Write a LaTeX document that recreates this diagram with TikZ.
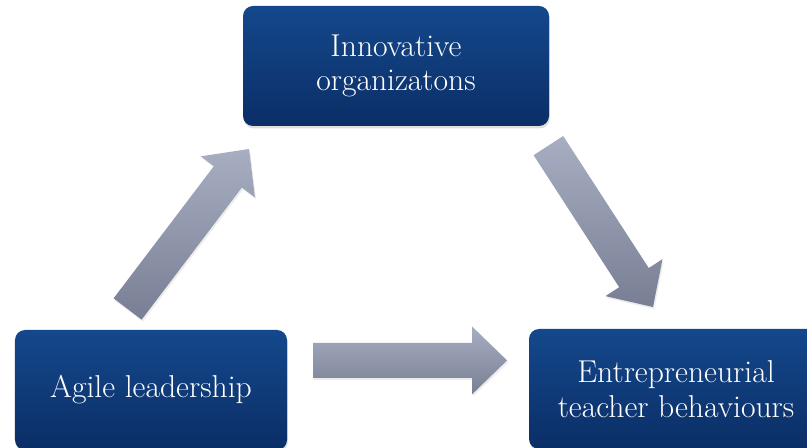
\documentclass[tikz,border=0pt]{standalone}
\usepackage{tikz}
\usetikzlibrary{calc, positioning, shadows}
\definecolor{colorBoxTop}{RGB}{20,72,140}
\definecolor{colorBoxBottom}{RGB}{11,46,102}
\definecolor{colorArrowTop}{RGB}{168,174,194}
\definecolor{colorArrowBottom}{RGB}{120,127,148}
\tikzset{
  box/.style={rounded corners=0.25cm, top color=colorBoxTop, bottom color=colorBoxBottom,
    text=white, align=center, font=\fontsize{22.5}{24.5}\selectfont, minimum height=3cm,
    drop shadow={shadow xshift=0.02cm, shadow yshift=-0.06cm, opacity=0.25}},
  bigarrow/.style={top color=colorArrowTop, bottom color=colorArrowBottom,
    drop shadow={shadow xshift=0.03cm, shadow yshift=-0.05cm, opacity=0.15}}
}
% block arrow from #1 to #2
\newcommand{\blockarrow}[2]{%
  \coordinate (h) at ($(#2)!0.875cm!(#1)$);
  \path[bigarrow] ($(#1)!0.44cm!90:(#2)$) -- ($(h)!0.44cm!90:(#2)$) -- ($(h)!0.85cm!90:(#2)$)
    -- (#2) -- ($(h)!0.85cm!-90:(#2)$) -- ($(h)!0.44cm!-90:(#2)$) -- ($(#1)!0.44cm!-90:(#2)$) -- cycle;}

\begin{document}
\begin{tikzpicture}
\useasboundingbox (0,0) rectangle (20.175,11.2);
\node[box, minimum width=7.65cm] (innov) at (9.9,9.55) {Innovative\\organizatons};
\node[box, minimum width=6.8cm] (agile) at (3.775,1.45) {Agile leadership};
\node[box, minimum width=7.35cm] (entre) at (16.9,1.475) {Entrepreneurial\\teacher behaviours};

\coordinate (a1) at (3.19,3.475);
\coordinate (b1) at (6.225,7.475);
\coordinate (a2) at (13.71,7.56);
\coordinate (b2) at (16.325,3.525);
\coordinate (a3) at (7.825,2.19);
\coordinate (b3) at (12.675,2.19);
\blockarrow{a1}{b1}
\blockarrow{a2}{b2}
\blockarrow{a3}{b3}
\end{tikzpicture}
\end{document}
